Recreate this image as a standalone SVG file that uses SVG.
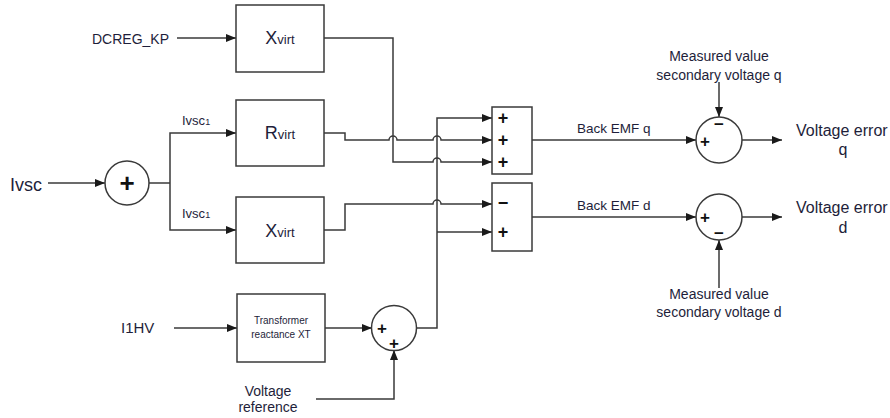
<svg xmlns="http://www.w3.org/2000/svg" width="890" height="418" viewBox="0 0 890 418">
<style>
text{font-family:"Liberation Sans",Arial,sans-serif;fill:#1e1e3a}
.blk{fill:#fff;stroke:#3a3a3a;stroke-width:1.5}
.ln{fill:none;stroke:#3a3a3a;stroke-width:1.5}
.arw{marker-end:url(#arr)}
.sg{font-weight:bold;fill:#111;text-anchor:middle}
.c{text-anchor:middle}
</style>
<defs>
<marker id="arr" viewBox="0 0 10 8" refX="10" refY="4" markerWidth="10" markerHeight="8" orient="auto" markerUnits="userSpaceOnUse"><path d="M0,0 L10,4 L0,8 z" fill="#1a1a1a"/></marker>
</defs>
<g id="connectors">
<path class="ln arw" d="M177,38 H236"/>
<path class="ln arw" d="M48,183 H105"/>
<path class="ln" d="M149,183 H170"/>
<path class="ln arw" d="M170,183 V133 H236"/>
<path class="ln arw" d="M170,183 V230 H236"/>
<path class="ln arw" d="M174,328 H237"/>
<path class="ln arw" d="M325,328 H372"/>
<path class="ln arw" d="M316,399 H394 V350"/>
<path class="ln arw" d="M324,38 H393 V162 H433 A4,4 0 0 1 441,162 H492"/>
<path class="ln arw" d="M324,133 H345 V140 H389 A4,4 0 0 1 397,140 H433 A4,4 0 0 1 441,140 H492"/>
<path class="ln arw" d="M324,230 H345 V204 H433 A4,4 0 0 1 441,204 H492"/>
<path class="ln arw" d="M416,328 H437 V118 H492"/>
<path class="ln arw" d="M437,232 H492"/>
<path class="ln arw" d="M532,140 H696"/>
<path class="ln arw" d="M532,217 H696"/>
<path class="ln arw" d="M719,82 V117"/>
<path class="ln arw" d="M719,288 V240"/>
<path class="ln arw" d="M742,140 H782"/>
<path class="ln arw" d="M742,217 H782"/>
</g>
<g id="ivsc"><text x="10" y="191" font-size="18">Ivsc</text></g>
<g id="dcreg"><text x="92" y="44" font-size="14">DCREG_KP</text></g>
<g id="i1hv"><text x="121" y="333" font-size="15">I1HV</text></g>
<g id="ivsc1a"><text x="182" y="125" font-size="13">Ivsc<tspan font-size="9">1</tspan></text></g>
<g id="ivsc1b"><text x="182" y="218" font-size="13">Ivsc<tspan font-size="9">1</tspan></text></g>
<g id="sum1"><circle class="blk" cx="127" cy="183" r="22"/><text class="sg" x="127" y="192" font-size="26">+</text></g>
<g id="xvirt1"><rect class="blk" x="236" y="5" width="88" height="67"/><text class="c" x="280" y="44"><tspan font-size="18">X</tspan><tspan font-size="13">virt</tspan></text></g>
<g id="rvirt"><rect class="blk" x="236" y="100" width="88" height="66"/><text class="c" x="280" y="139"><tspan font-size="18">R</tspan><tspan font-size="13">virt</tspan></text></g>
<g id="xvirt2"><rect class="blk" x="236" y="197" width="88" height="66"/><text class="c" x="280" y="237"><tspan font-size="18">X</tspan><tspan font-size="13">virt</tspan></text></g>
<g id="transformer"><rect class="blk" x="237" y="294" width="88" height="68"/><text class="c" x="281" y="324" font-size="10">Transformer</text><text class="c" x="281" y="338" font-size="10">reactance XT</text></g>
<g id="sum2"><circle class="blk" cx="394" cy="328" r="22.5"/><text class="sg" x="382" y="334" font-size="17">+</text><text class="sg" x="394" y="349" font-size="17">+</text></g>
<g id="vref"><text class="c" x="268" y="396" font-size="14">Voltage</text><text class="c" x="268" y="412" font-size="14">reference</text></g>
<g id="sumq"><rect class="blk" x="492" y="107" width="40" height="67"/><text class="sg" x="503" y="124" font-size="18">+</text><text class="sg" x="503" y="146" font-size="18">+</text><text class="sg" x="503" y="168" font-size="18">+</text></g>
<g id="sumd"><rect class="blk" x="492" y="183" width="40" height="68"/><text class="sg" x="503" y="209" font-size="18">−</text><text class="sg" x="503" y="238" font-size="18">+</text></g>
<g id="emfq"><text x="577" y="133" font-size="13.5">Back EMF q</text></g>
<g id="emfd"><text x="577" y="210" font-size="13.5">Back EMF d</text></g>
<g id="errq"><circle class="blk" cx="719" cy="140" r="23"/><text class="sg" x="719" y="130" font-size="17">−</text><text class="sg" x="705" y="147" font-size="17">+</text></g>
<g id="errd"><circle class="blk" cx="719" cy="217" r="23"/><text class="sg" x="705" y="223" font-size="17">+</text><text class="sg" x="719" y="239" font-size="17">−</text></g>
<g id="measq"><text class="c" x="719" y="61" font-size="14">Measured value</text><text class="c" x="719" y="80" font-size="14">secondary voltage q</text></g>
<g id="measd"><text class="c" x="719" y="299" font-size="14">Measured value</text><text class="c" x="719" y="317" font-size="14">secondary voltage d</text></g>
<g id="outq"><text x="796" y="136" font-size="16">Voltage error</text><text class="c" x="843" y="155" font-size="16">q</text></g>
<g id="outd"><text x="796" y="213" font-size="16">Voltage error</text><text class="c" x="843" y="233" font-size="16">d</text></g>
</svg>
